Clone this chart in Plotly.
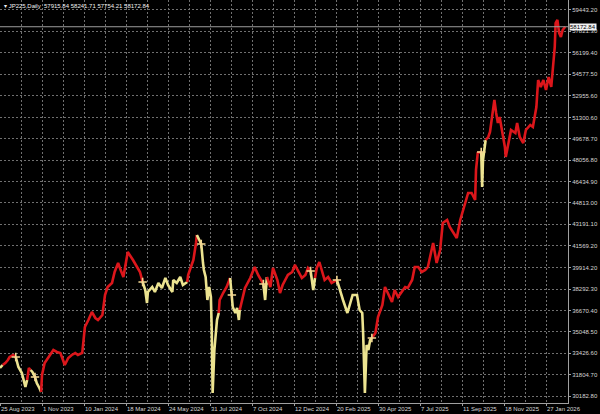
import plotly.graph_objects as go

# ---------------- data ----------------
symbol = "JP225,Daily"
last_ohlc = ["57915.84", "58241.71", "57754.21", "58172.84"]
last_close = 58172.84

date_labels = ["25 Aug 2023", "1 Nov 2023", "10 Jan 2024", "18 Mar 2024", "24 May 2024",
               "31 Jul 2024", "7 Oct 2024", "12 Dec 2024", "20 Feb 2025", "30 Apr 2025",
               "7 Jul 2025", "11 Sep 2025", "18 Nov 2025", "27 Jan 2026"]
bars_per_label = 48

price_ticks = [30182.80, 31804.70, 33426.60, 35048.50, 36670.40, 38292.30, 39914.20,
               41569.20, 43191.10, 44813.00, 46434.90, 48056.80, 49678.70, 51300.60,
               52955.60, 54577.50, 56199.40, 57821.30, 59443.20]

# bar index (trading days since 25 Aug 2023) and price
bars = [0, 3, 6, 9, 11, 15, 18, 21, 25, 29,
        31, 33, 35, 37, 40, 42, 45, 47, 48, 51,
        57, 61, 65, 69, 72, 74, 78, 82, 86, 89,
        94, 95, 97, 101, 105, 109, 112, 117, 120, 123,
        128, 131, 135, 137, 141, 145, 146, 152, 157, 160,
        163, 166, 168, 169, 174, 177, 181, 185, 189, 192,
        197, 198, 202, 206, 209, 214, 215, 217, 221, 224,
        225, 230, 232, 233, 235, 237, 239, 241, 242, 243,
        245, 247, 248, 250, 251, 255, 259, 263, 265, 266,
        269, 271, 273, 274, 277, 280, 286, 291, 295, 301,
        303, 305, 309, 312, 317, 320, 323, 329, 334, 337,
        341, 345, 349, 352, 355, 358, 360, 362, 365, 368,
        371, 375, 379, 385, 389, 392, 397, 400, 403, 408,
        411, 414, 415, 417, 419, 421, 423, 425, 429, 432,
        437, 440, 443, 448, 451, 455, 459, 463, 466, 471,
        474, 478, 482, 486, 489, 494, 495, 499, 503, 506,
        511, 514, 518, 522, 526, 528, 531, 535, 539, 543,
        544, 546, 550, 551, 552, 554, 555, 558, 560, 562,
        565, 567, 569, 571, 573, 575, 577, 578, 581, 584,
        589, 591, 594, 598, 601, 606, 609, 613, 615, 618,
        621, 624, 627, 630, 632, 634, 635, 637, 639, 641,
        643, 646]

prices = [32305, 32533, 32684, 32912, 33139, 33291, 33139, 32381, 31926, 30865,
          31396, 32305, 32154, 32002, 31623, 31168, 30789, 30486, 31775, 32684,
          33291, 33670, 33518, 33442, 32912, 32533, 33063, 33291, 33442, 33291,
          33442, 34200, 35413, 35944, 36550, 36095, 35944, 36323, 37839, 38445,
          38748, 39582, 40264, 39885, 39203, 40719, 41098, 40492, 39961, 39582,
          38824, 38218, 37232, 38066, 38445, 38066, 38748, 38369, 39127, 38597,
          38066, 38976, 38748, 39203, 38597, 38824, 39355, 39734, 40492, 41780,
          42387, 41704, 40264, 39734, 39203, 37460, 38445, 37687, 35186, 30410,
          33670, 35413, 35944, 36474, 37460, 37990, 38445, 39127, 37839, 36929,
          36474, 36853, 35944, 36702, 37460, 38369, 39127, 39961, 39355, 38672,
          37460, 39203, 38445, 39885, 38976, 37990, 38597, 39355, 39582, 40113,
          39582, 39127, 39355, 39885, 39658, 38218, 39127, 39885, 40340, 39582,
          38976, 39203, 38748, 38976, 37990, 37460, 36474, 37232, 37839, 37839,
          36702, 36474, 34958, 30410, 34049, 33670, 34428, 34579, 34958, 36171,
          37081, 38445, 37990, 37308, 38218, 37687, 38066, 38445, 38369, 38976,
          39961, 39961, 39582, 39734, 39961, 41477, 41780, 40264, 41250, 43296,
          43524, 42993, 42538, 42159, 43524, 44054, 44661, 45570, 45570, 45040,
          47314, 48602, 48678, 46025, 48072, 49057, 49588, 49815, 50194, 51104,
          52620, 51634, 50876, 51331, 50573, 49815, 49057, 48299, 49360, 50346,
          50118, 50876, 49815, 49360, 50346, 50725, 50573, 52089, 54136, 53605,
          54136, 53378, 54363, 53605, 55121, 56637, 58456, 58684, 57698, 57395,
          57926, 58173]

# colour state of each move (R = red / up state, Y = yellow / down state), run-length
trend_runs = [("Y", 2), ("R", 5), ("Y", 4), ("R", 2), ("Y", 5), ("R", 33), ("Y", 15),
              ("R", 5), ("Y", 13), ("R", 4), ("Y", 6), ("R", 6), ("Y", 2), ("R", 13),
              ("Y", 2), ("R", 7), ("Y", 14), ("R", 35), ("Y", 4), ("R", 35)]

# bars where a "+" signal is drawn
signal_bars = [18, 40, 163, 230, 265, 301, 355, 385, 425, 550]

# ---------------- styling ----------------
COL = {"R": "#dc161b", "Y": "#ece390"}
GRID = "#707070"
AXIS = "#a0a0a0"
TXT = "#d6d6d6"
FONT = "Liberation Sans, Arial, sans-serif"

seg = []
for c, n in trend_runs:
    seg += [c] * n

fig = go.Figure()
N = len(bars)
start = 1
while start < N:
    c = seg[start]
    end = start
    while end + 1 < N and seg[end + 1] == c:
        end += 1
    fig.add_trace(go.Scatter(x=bars[start - 1:end + 1], y=prices[start - 1:end + 1],
                             mode="lines", line=dict(color=COL[c], width=2.6),
                             hoverinfo="skip"))
    start = end + 1

lookup = dict(zip(bars, prices))
fig.add_trace(go.Scatter(x=signal_bars, y=[lookup[b] for b in signal_bars], mode="markers",
                         marker=dict(symbol="cross-thin", size=6,
                                     line=dict(color="#f4d893", width=1.6)),
                         hoverinfo="skip"))

n_lab = len(date_labels)
major_x = [k * bars_per_label for k in range(n_lab)]
minor_x = [k * bars_per_label + bars_per_label / 2 for k in range(n_lab - 1)]
x_max = 568 / 42 * bars_per_label

fig.update_layout(
    width=600, height=414,
    margin=dict(l=0, r=32, t=0, b=11, autoexpand=False),
    paper_bgcolor="black", plot_bgcolor="black",
    showlegend=False,
    font=dict(family=FONT, size=6, color=TXT),
)
fig.update_xaxes(
    range=[0, x_max], tickmode="array", tickvals=major_x, ticktext=date_labels,
    tickangle=0, automargin=False,
    ticklabelposition="outside right", ticks="outside", ticklen=2, tickcolor=AXIS,
    showgrid=True, gridcolor=GRID, gridwidth=1, griddash="2px,2px",
    minor=dict(tickmode="array", tickvals=minor_x, showgrid=True, gridcolor=GRID,
               gridwidth=1, griddash="2px,2px", ticks=""),
    showline=True, linecolor=AXIS, linewidth=1, zeroline=False,
    tickfont=dict(size=6, color=TXT),
)
y_top = 30182.8 + 396 * 75.8
y_bot = 30182.8 - 7 * 75.8
fig.update_yaxes(
    side="right", range=[y_bot, y_top], tickmode="array", tickvals=price_ticks,
    ticktext=[f"{v:.2f}" for v in price_ticks], ticks="outside", ticklen=2, tickcolor=AXIS,
    automargin=False,
    showgrid=True, gridcolor=GRID, gridwidth=1, griddash="2px,2px",
    showline=True, linecolor=AXIS, linewidth=1, zeroline=False,
    tickfont=dict(size=6, color=TXT),
)

# last price line and box
fig.add_shape(type="line", xref="paper", x0=0, x1=1, yref="y", y0=last_close, y1=last_close,
              line=dict(color="#9c9c9c", width=1))
fig.add_annotation(xref="paper", x=1, xanchor="left", xshift=1, yref="y", y=last_close,
                   text=f"{last_close:.2f}", showarrow=False, bgcolor="#f2f2f2",
                   font=dict(size=6, color="black", family=FONT), borderpad=0)

# header
fig.add_annotation(xref="paper", yref="paper", x=0, y=1, xanchor="left", yanchor="top",
                   xshift=2, yshift=-1, showarrow=False,
                   text="▾ " + symbol + "  " + " ".join(last_ohlc),
                   font=dict(size=6, color="#f0f0f0", family=FONT))

fig.write_html("out.html", config={"displayModeBar": False},
               post_script="document.body.style.margin='0';document.body.style.background='black';")
